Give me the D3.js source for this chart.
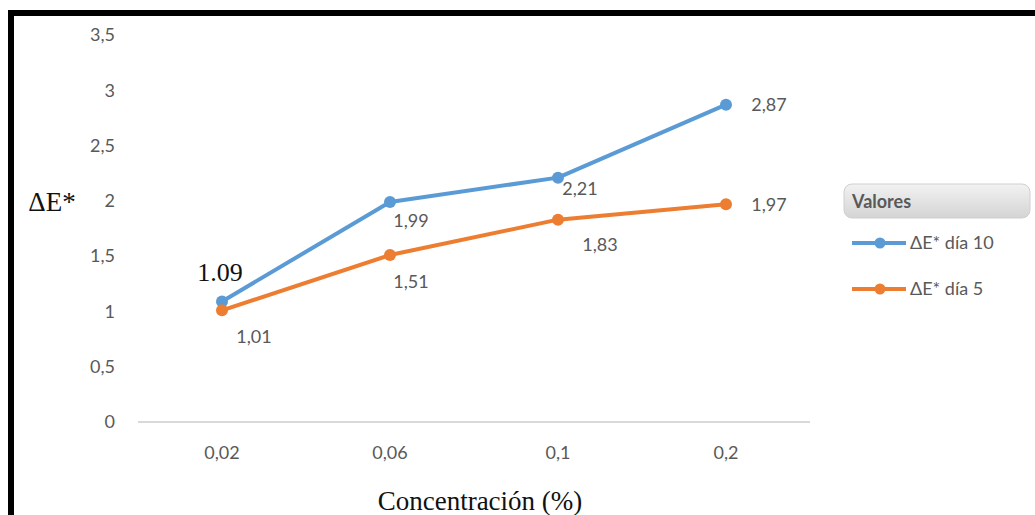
<!DOCTYPE html>
<html><head><meta charset="utf-8">
<script src="https://cdn.jsdelivr.net/npm/d3@7"></script>
<style>body{margin:0;background:#fff}svg{display:block}</style>
</head><body>
<svg id="c" width="1035" height="515"></svg>
<script>
const categories = ["0,02", "0,06", "0,1", "0,2"];
const dia10 = [1.09, 1.99, 2.21, 2.87];
const dia5 = [1.01, 1.51, 1.83, 1.97];
const yTicks = [0, 0.5, 1, 1.5, 2, 2.5, 3, 3.5];
const seriesNames = ["ΔE* día 10", "ΔE* día 5"];
const dia10Labels = ["1.09", "1,99", "2,21", "2,87"];
const dia5Labels = ["1,01", "1,51", "1,83", "1,97"];

const svg = d3.select("#c");
const gray = "#595959";
const fontSans = "Lato, 'Open Sans', sans-serif";
const fontSerif = "'Liberation Serif', 'DejaVu Serif', serif";
const colors = ["#5B9BD5", "#ED7D31"];

// frame
svg.append("rect").attr("x", 11).attr("y", 13).attr("width", 1040).attr("height", 520)
  .attr("fill", "none").attr("stroke", "#000").attr("stroke-width", 6);

const x = d3.scaleBand().domain(categories).range([138, 810]);
const y = d3.scaleLinear().domain([0, 3.5]).range([422, 35]);

// baseline
svg.append("line").attr("x1", 138).attr("x2", 810).attr("y1", y(0)).attr("y2", y(0))
  .attr("stroke", "#d9d9d9").attr("stroke-width", 2);

// y axis labels
const yAxis = d3.axisLeft(y).tickValues(yTicks).tickSize(0).tickPadding(0)
  .tickFormat(d => String(d).replace(".", ","));
const gy = svg.append("g").attr("transform", "translate(115,0)").call(yAxis);
gy.select(".domain").remove();
gy.selectAll("text").attr("fill", gray).attr("font-family", fontSans).attr("font-size", 18);

// x axis labels
const xAxis = d3.axisBottom(x).tickSize(0).tickPadding(0);
const gx = svg.append("g").attr("transform", "translate(0,446)").call(xAxis);
gx.select(".domain").remove();
gx.selectAll("text").attr("fill", gray).attr("font-family", fontSans).attr("font-size", 18);

const cx = d => x(d) + x.bandwidth() / 2;
const line = d3.line().x((d, i) => cx(categories[i])).y(d => y(d));

[dia10, dia5].forEach((s, k) => {
  svg.append("path").datum(s).attr("d", line).attr("fill", "none")
    .attr("stroke", colors[k]).attr("stroke-width", 4).attr("stroke-linejoin", "round");
  svg.selectAll(null).data(s).enter().append("circle")
    .attr("cx", (d, i) => cx(categories[i])).attr("cy", d => y(d)).attr("r", 6)
    .attr("fill", colors[k]);
});

// data labels (placement offsets relative to points)
const off10 = [[-2, -20], [21, 25], [22, 17], [43, 6]];
const off5 = [[32, 33], [21, 33], [42, 31], [43, 7]];
dia10Labels.forEach((t, i) => {
  const serif = i === 0;
  svg.append("text").attr("x", cx(categories[i]) + off10[i][0]).attr("y", y(dia10[i]) + off10[i][1])
    .attr("text-anchor", "middle").attr("fill", serif ? "#111" : gray)
    .attr("font-family", serif ? fontSerif : fontSans).attr("font-size", serif ? 26 : 18)
    .text(t);
});
dia5Labels.forEach((t, i) => {
  svg.append("text").attr("x", cx(categories[i]) + off5[i][0]).attr("y", y(dia5[i]) + off5[i][1])
    .attr("text-anchor", "middle").attr("fill", gray)
    .attr("font-family", fontSans).attr("font-size", 18).text(t);
});

// axis titles
svg.append("text").attr("x", 52).attr("y", 211).attr("text-anchor", "middle")
  .attr("font-family", fontSerif).attr("font-size", 27).attr("fill", "#111").text("ΔE*");
svg.append("text").attr("x", 480).attr("y", 510).attr("text-anchor", "middle")
  .attr("font-family", fontSerif).attr("font-size", 27).attr("fill", "#111").text("Concentración (%)");

// legend
const defs = svg.append("defs");
const grad = defs.append("linearGradient").attr("id", "lg").attr("x1", 0).attr("x2", 0).attr("y1", 0).attr("y2", 1);
grad.append("stop").attr("offset", "0%").attr("stop-color", "#f2f2f2");
grad.append("stop").attr("offset", "100%").attr("stop-color", "#d4d4d4");
svg.append("rect").attr("x", 844).attr("y", 184).attr("width", 186).attr("height", 34).attr("rx", 8)
  .attr("fill", "url(#lg)").attr("stroke", "#cfcfcf");
svg.append("text").attr("x", 852).attr("y", 208).attr("font-family", fontSans).attr("font-weight", "bold")
  .attr("font-size", 18).attr("fill", gray).text("Valores");
seriesNames.forEach((n, k) => {
  const ly = 243 + k * 46;
  svg.append("line").attr("x1", 852).attr("x2", 906).attr("y1", ly).attr("y2", ly)
    .attr("stroke", colors[k]).attr("stroke-width", 4);
  svg.append("circle").attr("cx", 880).attr("cy", ly).attr("r", 5.5).attr("fill", colors[k]);
  svg.append("text").attr("x", 910).attr("y", ly + 6).attr("font-family", fontSans)
    .attr("font-size", 18).attr("fill", gray).text(n);
});
</script>
</body></html>
